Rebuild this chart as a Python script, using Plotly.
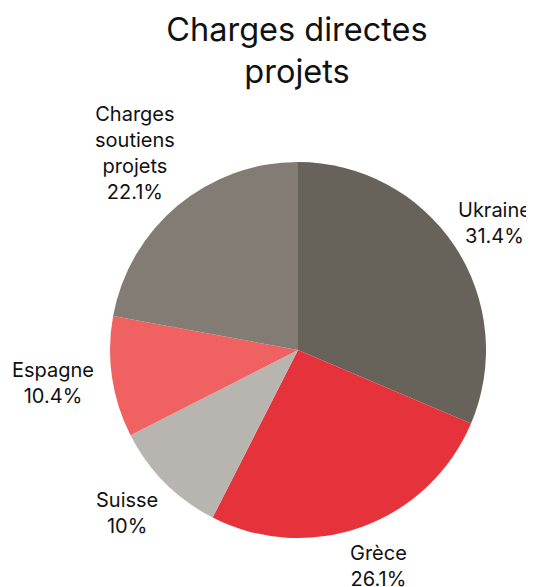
import math
import plotly.graph_objects as go

labels = ["Ukraine", "Grèce", "Suisse", "Espagne", "Charges<br>soutiens<br>projets"]
values = [31.4, 26.1, 10.0, 10.4, 22.1]
colors = ["#67625a", "#e5323b", "#b8b5b0", "#f06262", "#827c74"]

W, H = 534, 587
# pie geometry in figure pixels
CX, CY, R = 290, 342, 188
LABEL_R = 1.085 * R
CHAR_W, LINE_H = 12.5, 26
VISIBLE_RIGHT = 530

fig = go.Figure(go.Pie(
    labels=labels,
    values=values,
    sort=False,
    direction="clockwise",
    rotation=0,
    marker=dict(colors=colors, line=dict(width=0)),
    textinfo="none",
    showlegend=False,
    hoverinfo="label+percent",
    automargin=False,
    domain=dict(x=[(CX - R) / W, (CX + R) / W], y=[1 - (CY + R) / H, 1 - (CY - R) / H]),
))

total = sum(values)
cum = 0.0
annotations = []
for lab, v in zip(labels, values):
    mid = (cum + v / 2) / total * 2 * math.pi
    cum += v
    ux, uy = math.sin(mid), -math.cos(mid)
    pct = round(v / total * 100, 1)
    text = f"{lab}<br>{pct:g}%"
    lines = text.split("<br>")
    w = max(len(s) for s in lines) * CHAR_W
    h = len(lines) * LINE_H
    px = CX + ux * (LABEL_R + w / 2)
    py = CY + uy * (LABEL_R + h / 2)
    px = min(px, VISIBLE_RIGHT - w / 2)
    annotations.append(dict(
        text=text, x=px / W, y=1 - py / H, xref="paper", yref="paper",
        xanchor="center", yanchor="middle", showarrow=False, align="center",
        font=dict(family="Inter", size=20, color="#111111"),
    ))

fig.update_layout(
    width=W, height=H,
    title=dict(text="Charges directes<br>projets", x=289 / W, xanchor="center",
               y=1 - 32.5 / H, yanchor="middle", yref="container",
               font=dict(family="Inter", size=32.5, color="#111111")),
    annotations=annotations,
    margin=dict(l=0, r=0, t=0, b=0, autoexpand=False),
    paper_bgcolor="white",
    font=dict(family="Inter"),
)

fig.write_html("out.html")
